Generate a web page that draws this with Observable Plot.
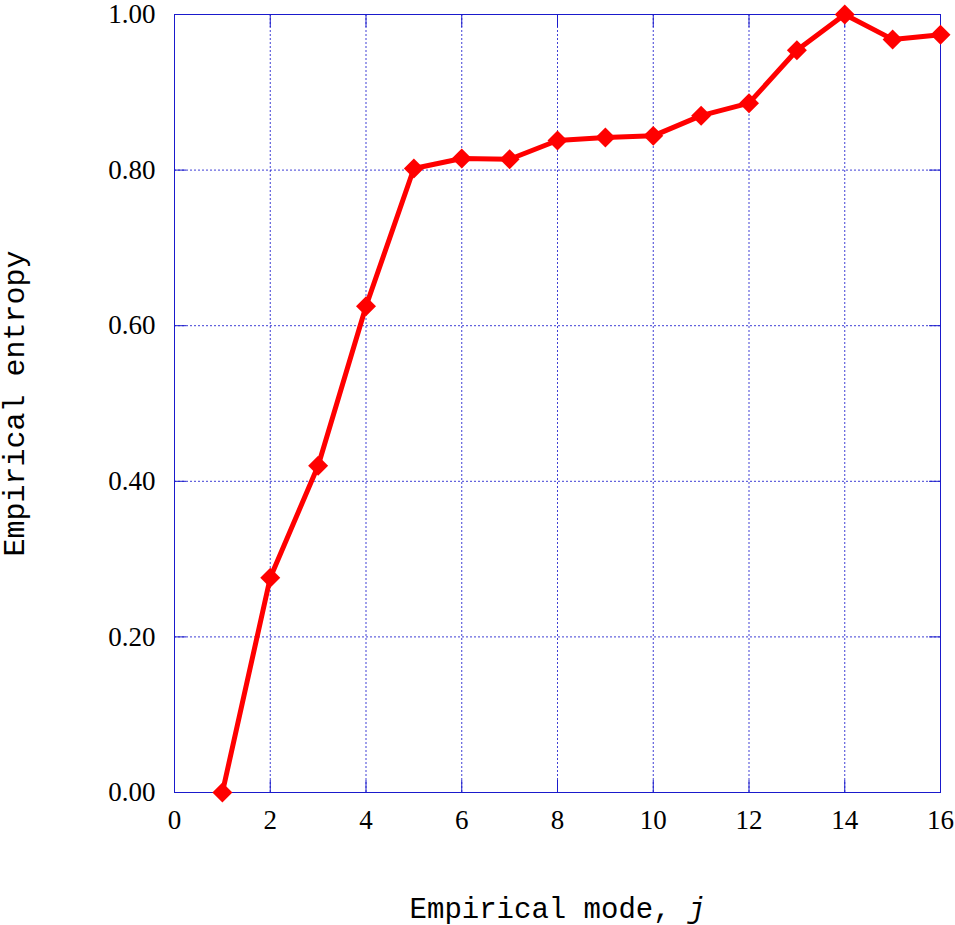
<!DOCTYPE html>
<html>
<head>
<meta charset="utf-8">
<script src="https://cdn.jsdelivr.net/npm/d3@7"></script>
<script src="https://cdn.jsdelivr.net/npm/@observablehq/plot@0.6"></script>
<style>
  html, body { margin: 0; padding: 0; background: #fff; }
  #chart svg { display: block; }
</style>
</head>
<body>
<div id="chart"></div>
<script>
const modes = [1, 2, 3, 4, 5, 6, 7, 8, 9, 10, 11, 12, 13, 14, 15, 16];
const entropy = [0.000, 0.276, 0.420, 0.625, 0.802, 0.815, 0.814, 0.838, 0.842, 0.844, 0.870, 0.886, 0.954, 1.000, 0.968, 0.974];
const xTicks = [0, 2, 4, 6, 8, 10, 12, 14, 16];
const yTicks = [0, 0.2, 0.4, 0.6, 0.8, 1.0];
const xLabel = "Empirical mode, ";
const xLabelItalic = "j";
const yLabel = "Empirical entropy";

const data = modes.map((m, i) => ({mode: m, value: entropy[i]}));

const gridColor = "#2a2ad0";
const frameColor = "#1a1acc";
const serif = "'Liberation Serif', 'Times New Roman', serif";
const mono = "'Liberation Mono', 'Courier New', monospace";

const chart = Plot.plot({
  width: 955,
  height: 925,
  marginLeft: 174,
  marginRight: 15,
  marginTop: 14,
  marginBottom: 133,
  x: {domain: [0, 16]},
  y: {domain: [0, 1]},
  style: {background: "#fff"},
  marks: [
    Plot.gridX(xTicks, {stroke: gridColor, strokeOpacity: 0.9, strokeDasharray: "2,2", strokeWidth: 1}),
    Plot.gridY(yTicks, {stroke: gridColor, strokeOpacity: 0.9, strokeDasharray: "2,2", strokeWidth: 1}),
    Plot.frame({stroke: frameColor, strokeWidth: 1}),
    // inward ticks
    Plot.axisX(xTicks, {anchor: "bottom", tickSize: -12, tickFormat: () => "", stroke: frameColor, label: null}),
    Plot.axisX(xTicks, {anchor: "top", tickSize: -12, tickFormat: () => "", stroke: frameColor, label: null}),
    Plot.axisY(yTicks, {anchor: "left", tickSize: -12, tickFormat: () => "", stroke: frameColor, label: null}),
    Plot.axisY(yTicks, {anchor: "right", tickSize: -12, tickFormat: () => "", stroke: frameColor, label: null}),
    // tick labels
    Plot.axisX(xTicks, {anchor: "bottom", tickSize: 0, tickPadding: 17, fontSize: 27, fontFamily: serif, fill: "#000", label: null, tickFormat: d3.format("d")}),
    Plot.axisY(yTicks, {anchor: "left", tickSize: 0, tickPadding: 19, fontSize: 27, fontFamily: serif, fill: "#000", label: null, tickFormat: d3.format(".2f")}),
    // series
    Plot.line(data, {x: "mode", y: "value", stroke: "#ff0000", strokeWidth: 5, strokeLinejoin: "round"}),
    Plot.dot(data, {x: "mode", y: "value", symbol: "diamond2", r: 9, fill: "#ff0000", stroke: "none"}),
    // axis titles
    Plot.text([xLabel], {frameAnchor: "bottom", dy: 125, text: d => d, fontSize: 29, fontFamily: mono, fill: "#000", textAnchor: "middle", className: "xlabel"}),
    Plot.text([yLabel], {frameAnchor: "left", dx: -160, rotate: -90, text: d => d, fontSize: 30, fontFamily: mono, fill: "#000", textAnchor: "middle"})
  ]
});

document.getElementById("chart").appendChild(chart);

// add italic j to x label
const xl = d3.select(chart).select("g.xlabel text");
if (!xl.empty()) {
  const base = xl.text();
  xl.text(null);
  xl.append("tspan").text(base);
  xl.append("tspan").attr("font-style", "italic").text(xLabelItalic);
}
</script>
</body>
</html>
